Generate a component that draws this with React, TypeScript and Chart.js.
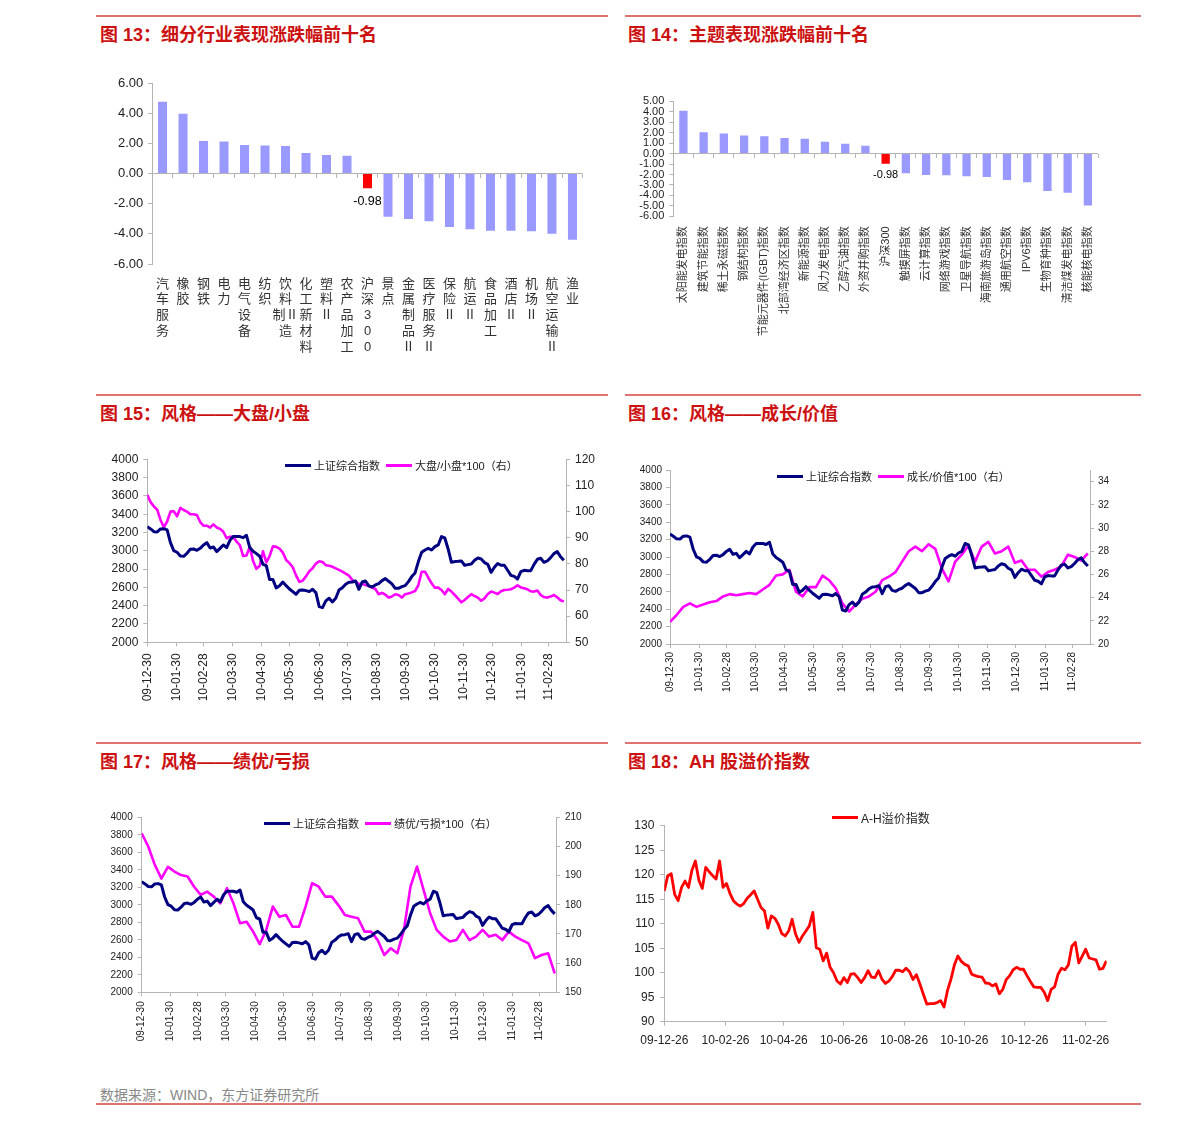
import React, { useEffect, useRef } from 'react';
import { Chart, registerables } from 'chart.js';

Chart.register(...registerables);

const FONT = "'Liberation Sans', 'Noto Sans CJK SC', sans-serif";
const AXIS = '#b4b4b4';
const TXT = '#222222';
const NAVY = '#000080';
const MAGENTA = '#ff00ff';
const RED = '#ff0000';
const BAR = '#9999ff';
const TITLE_RED = '#cc1111';
const RULE_RED = '#e07272';
const BENCHMARK = '沪深300';

// ---------- 图13 细分行业 ----------
const industryLabels: string[][] = [
  ['汽', '车', '服', '务'], ['橡', '胶'], ['钢', '铁'], ['电', '力'], ['电', '气', '设', '备'], ['纺', '织'],
  ['饮', '料', '制Ⅱ', '造'], ['化', '工', '新', '材', '料'], ['塑', '料', 'Ⅱ'], ['农', '产', '品', '加', '工'],
  ['沪', '深', '3', '0', '0'], ['景', '点'], ['金', '属', '制', '品', 'Ⅱ'], ['医', '疗', '服', '务', 'Ⅱ'],
  ['保', '险', 'Ⅱ'], ['航', '运', 'Ⅱ'], ['食', '品', '加', '工'], ['酒', '店', 'Ⅱ'], ['机', '场', 'Ⅱ'],
  ['航', '空', '运', '输', 'Ⅱ'], ['渔', '业'],
];
const industryChange = [4.76, 3.96, 2.16, 2.12, 1.89, 1.85, 1.83, 1.36, 1.23, 1.18, -0.98, -2.86, -3.02, -3.17, -3.55, -3.69, -3.79, -3.79, -3.83, -3.99, -4.39];

// ---------- 图14 主题 ----------
const themeLabels = ['太阳能发电指数', '建筑节能指数', '稀土永磁指数', '钢结构指数', '节能元器件(IGBT)指数', '北部湾经济区指数', '新能源指数', '风力发电指数', '乙醇汽油指数', '外资并购指数', '沪深300', '触摸屏指数', '云计算指数', '网络游戏指数', '卫星导航指数', '海南旅游岛指数', '通用航空指数', 'IPV6指数', '生物育种指数', '清洁煤发电指数', '核能核电指数'];
const themeChange = [4.09, 2.05, 1.92, 1.73, 1.66, 1.5, 1.41, 1.12, 0.93, 0.74, -0.98, -1.89, -2.05, -2.08, -2.17, -2.24, -2.53, -2.75, -3.58, -3.74, -4.96];

// ---------- 风格图 (samples counted in days from 2009-12-30) ----------
const styleStart = '2009-12-30';
const styleTickLabels = ['09-12-30', '10-01-30', '10-02-28', '10-03-30', '10-04-30', '10-05-30', '10-06-30', '10-07-30', '10-08-30', '10-09-30', '10-10-30', '10-11-30', '10-12-30', '11-01-30', '11-02-28'];
const halfWeekDays = Array.from({ length: 127 }, (_, i) => i * 3.5);
const weeklyDays = Array.from({ length: 64 }, (_, i) => i * 7);

const shComposite = [3264, 3239, 3209, 3206, 3239, 3242, 3228, 3089, 3002, 2984,
  2944, 2940, 2973, 3016, 3020, 3005, 3027, 3064, 3089, 3031,
  3042, 2991, 3027, 3064, 3035, 3115, 3155, 3155, 3155, 3144,
  3169, 3035, 2995, 2969, 2940, 2852, 2838, 2685, 2685, 2594,
  2619, 2659, 2619, 2583, 2554, 2525, 2568, 2572, 2565, 2554,
  2579, 2543, 2390, 2379, 2452, 2481, 2441, 2481, 2572, 2597,
  2634, 2656, 2659, 2670, 2579, 2659, 2670, 2616, 2605, 2627,
  2641, 2674, 2696, 2667, 2638, 2590, 2590, 2608, 2619, 2663,
  2718, 2758, 2882, 2984, 3009, 3027, 3009, 3046, 3064, 3155,
  3140, 3020, 2874, 2882, 2885, 2889, 2842, 2849, 2856, 2896,
  2922, 2911, 2871, 2852, 2765, 2820, 2860, 2842, 2842, 2787,
  2732, 2721, 2692, 2772, 2787, 2783, 2783, 2852, 2907, 2918,
  2874, 2889, 2925, 2969, 2991, 2936, 2896];

const bigSmallRatio = [106.4, 103.6, 102.0, 100.7, 96.8, 94.0, 96.2, 100.0, 100.1, 98.2,
  101.4, 100.6, 100.0, 99.0, 99.0, 98.7, 96.0, 94.6, 94.6, 93.9,
  95.1, 93.9, 93.4, 92.3, 89.8, 90.4, 90.4, 88.5, 87.2, 83.0,
  83.2, 86.5, 81.1, 78.1, 79.3, 84.8, 80.6, 83.0, 86.7, 86.5,
  85.8, 84.3, 81.5, 80.3, 78.7, 75.6, 73.1, 73.6, 75.2, 77.2,
  78.3, 80.1, 81.0, 80.7, 79.5, 79.3, 78.9, 78.3, 77.7, 77.0,
  76.3, 75.5, 73.8, 73.2, 72.3, 72.3, 71.9, 71.5, 70.9, 70.4,
  68.4, 68.9, 68.2, 67.1, 67.5, 68.4, 68.1, 67.1, 68.4, 68.7,
  69.1, 69.6, 71.9, 77.0, 77.0, 74.7, 72.6, 70.9, 70.9, 70.0,
  68.4, 70.4, 69.4, 68.1, 66.7, 65.3, 66.2, 67.3, 68.4, 67.7,
  67.1, 65.9, 66.8, 68.5, 69.4, 69.0, 68.5, 69.5, 70.0, 70.1,
  70.3, 70.9, 71.8, 71.0, 70.7, 70.3, 69.5, 69.4, 69.8, 68.1,
  67.3, 67.1, 67.5, 68.1, 67.2, 66.1, 65.6];

const growthValueRatio = [21.9, 22.5, 23.2, 23.5, 23.2, 23.4, 23.6, 23.7, 24.1, 24.3,
  24.2, 24.3, 24.4, 24.3, 24.7, 25.1, 25.9, 26.0, 26.4, 24.5,
  24.1, 24.9, 24.9, 25.9, 25.5, 24.8, 23.5, 22.8, 23.4, 23.9,
  24.1, 24.5, 25.5, 25.8, 26.2, 27.1, 28.0, 28.4, 28.0, 28.6,
  28.2, 26.5, 25.4, 27.1, 27.7, 28.5, 27.1, 28.4, 28.8, 27.8,
  28.0, 28.4, 27.0, 27.2, 26.4, 26.4, 25.8, 26.2, 26.4, 26.7,
  27.7, 27.5, 27.2, 27.8];

const profitLossRatio = [204.5, 200, 193.7, 189, 193, 191.4, 190.2, 189.7, 186.2, 183.4,
  184.5, 182.8, 180.5, 185.7, 180.5, 173.7, 174.2, 170.8, 166.5, 171.4,
  179.4, 175.9, 176.5, 172.5, 172.5, 179.4, 187.4, 186.2, 182.8, 182.8,
  179.9, 176.5, 175.9, 175.4, 170.8, 170.8, 167.9, 162.8, 165.1, 163.4,
  171.4, 186.2, 193.1, 185.1, 177.1, 171.4, 169.1, 167.4, 167.9, 171.4,
  167.9, 169.1, 171.4, 169.1, 169.7, 167.9, 170.8, 169.1, 167.9, 166.8,
  161.7, 162.8, 163.4, 156.5];

// ---------- 图18 AH 溢价 (samples counted in days from 2009-12-26) ----------
const ahStart = '2009-12-26';
const ahTickLabels = ['09-12-26', '10-02-26', '10-04-26', '10-06-26', '10-08-26', '10-10-26', '10-12-26', '11-02-26'];
const ahSampleDays = Array.from({ length: 129 }, (_, i) => i * 3.5);
const ahPremium = [116.7, 119.8, 120.2, 116.0, 114.7, 117.4, 118.7, 117.4, 120.9, 122.8,
  118.9, 117.2, 121.5, 120.6, 119.8, 119.1, 122.8, 117.4, 118.2, 116.2,
  114.7, 114.0, 113.6, 114.1, 115.2, 115.9, 116.7, 115.0, 113.3, 112.6,
  109.1, 111.6, 111.1, 109.9, 108.0, 107.5, 108.5, 110.9, 107.9, 106.2,
  107.5, 108.5, 109.6, 112.3, 105.1, 104.8, 102.4, 104.0, 101.1, 100.0,
  98.3, 97.7, 99.0, 98.0, 99.7, 99.8, 99.0, 98.0, 99.0, 100.4,
  99.1, 99.0, 100.4, 98.7, 97.8, 98.3, 99.2, 100.5, 100.5, 100.2,
  100.9, 100.2, 98.6, 99.6, 97.7, 95.6, 93.6, 93.7, 93.7, 93.9,
  94.3, 93.0, 96.4, 98.7, 101.6, 103.4, 102.3, 101.7, 101.4, 99.7,
  99.4, 99.2, 99.1, 97.9, 97.8, 97.3, 97.7, 95.7, 96.6, 98.6,
  99.4, 100.6, 101.1, 100.7, 100.7, 99.4, 98.2, 97.1, 97.0, 97.0,
  96.0, 94.3, 96.6, 97.1, 99.7, 100.9, 100.6, 101.6, 105.4, 106.2,
  102.0, 103.4, 104.8, 103.0, 102.8, 102.6, 100.7, 100.9, 102.4];

// ---------- helpers ----------
function dayIndex(start: string, label: string) {
  const d = new Date('20' + label + 'T00:00:00Z').getTime();
  const s = new Date(start + 'T00:00:00Z').getTime();
  return Math.round((d - s) / 86400000);
}
function range(min: number, max: number, step: number) {
  const out: number[] = [];
  for (let v = min; v <= max + 1e-9; v += step) out.push(Math.round(v * 1000) / 1000);
  return out;
}

function axisY(position: string, r: any, width: number, size: number, pad: number) {
  return {
    type: 'linear',
    position,
    min: r.min,
    max: r.max,
    afterBuildTicks: (s: any) => { s.ticks = range(r.min, r.tickMax ?? r.max, r.step).map((v) => ({ value: v })); },
    afterFit: (s: any) => { s.width = width; },
    ticks: { autoSkip: false, padding: pad, font: { family: FONT, size, lineHeight: 1 }, color: TXT, callback: (v: any) => String(v) },
    grid: { drawOnChartArea: false, drawTicks: true, tickLength: 4, color: AXIS },
    border: { color: AXIS },
  };
}

function lineConfig(spec: any) {
  const { box, plot } = spec;
  const leftW = plot.l - box.left;
  const rightW = box.left + box.width - plot.r;
  const topPad = plot.t - box.top;
  const xH = box.top + box.height - plot.b;
  const tickDays = spec.xTickLabels.map((l: string) => dayIndex(spec.start, l));
  const scales: any = {
    x: {
      type: 'linear',
      min: 0,
      max: spec.xMax,
      afterBuildTicks: (s: any) => { s.ticks = tickDays.map((v: number) => ({ value: v })); },
      afterFit: (s: any) => { s.height = xH; },
      ticks: {
        autoSkip: false, minRotation: spec.rot, maxRotation: spec.rot, padding: spec.xPad,
        font: { family: FONT, size: spec.font }, color: TXT,
        callback: (_v: any, i: number) => spec.xTickLabels[i],
      },
      grid: { drawOnChartArea: false, drawTicks: true, tickLength: 4, color: AXIS },
      border: { color: AXIS },
    },
    y: axisY('left', spec.left, leftW, spec.font, spec.yPad),
  };
  if (spec.right) scales.y2 = axisY('right', spec.right, rightW, spec.font, spec.yPad);
  return {
    type: 'line',
    data: {
      datasets: spec.series.map((s: any) => ({
        label: s.label,
        data: s.days.map((x: number, i: number) => ({ x, y: s.data[i] })),
        borderColor: s.color,
        backgroundColor: s.color,
        borderWidth: s.width,
        pointRadius: 0,
        tension: 0,
        borderJoinStyle: 'round',
        yAxisID: s.axis,
      })),
    },
    options: {
      responsive: false,
      animation: false,
      events: [],
      layout: { padding: { top: topPad, left: 0, bottom: 0, right: spec.right ? 0 : rightW } },
      plugins: { legend: { display: false }, tooltip: { enabled: false } },
      scales,
    },
  };
}

function valueLabelPlugin(index: number, offset: number, size: number) {
  return {
    id: 'valueLabel',
    afterDatasetsDraw(chart: any) {
      const el = chart.getDatasetMeta(0).data[index];
      if (!el) return;
      const v = chart.data.datasets[0].data[index] as number;
      const ctx = chart.ctx;
      ctx.save();
      ctx.font = `${size}px ${FONT}`;
      ctx.fillStyle = '#000';
      ctx.textAlign = 'center';
      ctx.textBaseline = 'top';
      ctx.fillText(v.toFixed(2), el.x, el.y + offset);
      ctx.restore();
    },
  };
}

function barConfig(spec: any) {
  const { box, plot } = spec;
  const leftW = plot.l - box.left;
  const rightPad = box.left + box.width - plot.r;
  const topPad = plot.t - box.top;
  const xH = box.top + box.height - plot.b;
  const names = spec.labels.map((l: any) => (Array.isArray(l) ? l.join('') : l));
  const bench = names.indexOf(BENCHMARK);
  return {
    type: 'bar',
    data: {
      labels: spec.labels,
      datasets: [{
        data: spec.values,
        backgroundColor: names.map((n: string) => (n === BENCHMARK ? RED : BAR)),
        barPercentage: spec.barPct,
        categoryPercentage: 1,
      }],
    },
    options: {
      responsive: false,
      animation: false,
      events: [],
      layout: { padding: { top: topPad, right: rightPad, left: 0, bottom: 0 } },
      plugins: { legend: { display: false }, tooltip: { enabled: false } },
      scales: {
        x: {
          grid: { display: false },
          border: { display: false },
          afterFit: (s: any) => { s.height = xH; },
          ticks: {
            autoSkip: false, minRotation: spec.rot, maxRotation: spec.rot, padding: spec.xPad,
            font: { family: FONT, size: spec.xFont, lineHeight: spec.xLine }, color: '#333',
          },
        },
        x2: {
          type: 'category',
          position: { y: 0 },
          offset: true,
          grid: { offset: true, drawOnChartArea: false, drawTicks: true, tickLength: 4, color: AXIS },
          ticks: { display: false },
          border: { display: false },
        },
        y: {
          min: spec.min,
          max: spec.max,
          afterBuildTicks: (s: any) => { s.ticks = range(spec.min, spec.max, spec.step).map((v) => ({ value: v })); },
          afterFit: (s: any) => { s.width = leftW; },
          ticks: {
            autoSkip: false, padding: 5, font: { family: FONT, size: spec.yFont, lineHeight: 1 }, color: TXT,
            callback: (v: any) => Number(v).toFixed(2),
          },
          grid: {
            drawOnChartArea: true, drawTicks: true, tickLength: 4,
            color: (c: any) => (c.tick && c.tick.value === 0 ? AXIS : 'rgba(0,0,0,0)'),
            tickColor: AXIS,
          },
          border: { color: AXIS },
        },
      },
    },
    plugins: [valueLabelPlugin(bench, spec.labelOffset, spec.labelFont)],
  };
}

// ---------- chart specs ----------
const CHARTS = [
  {
    box: { left: 95, top: 60, width: 515, height: 305 },
    build: () => barConfig({
      box: { left: 95, top: 60, width: 515, height: 305 },
      plot: { l: 152.3, r: 582.7, t: 83, b: 264 },
      labels: industryLabels, values: industryChange, min: -6, max: 6, step: 2,
      yFont: 13, xFont: 13, xLine: 1.22, rot: 0, xPad: 4, barPct: 0.44, labelOffset: 7, labelFont: 12.5,
    }),
  },
  {
    box: { left: 625, top: 85, width: 490, height: 255 },
    build: () => barConfig({
      box: { left: 625, top: 85, width: 490, height: 255 },
      plot: { l: 673.3, r: 1098, t: 101.3, b: 216.3 },
      labels: themeLabels, values: themeChange, min: -6, max: 5, step: 1,
      yFont: 11, xFont: 11, xLine: 1.2, rot: 90, xPad: 2, barPct: 0.41, labelOffset: 6, labelFont: 11,
    }),
  },
  {
    box: { left: 95, top: 445, width: 520, height: 275 },
    build: () => lineConfig({
      box: { left: 95, top: 445, width: 520, height: 275 },
      plot: { l: 147.3, r: 566, t: 459.3, b: 642.3 },
      start: styleStart, xTickLabels: styleTickLabels, xMax: 443.3,
      rot: 90, font: 12, xPad: 7, yPad: 5,
      left: { min: 2000, max: 4000, step: 200 },
      right: { min: 50, max: 120, step: 10 },
      series: [
        { label: '上证综合指数', data: shComposite, days: halfWeekDays, color: NAVY, width: 3, axis: 'y' },
        { label: '大盘/小盘*100（右）', data: bigSmallRatio, days: halfWeekDays, color: MAGENTA, width: 2.6, axis: 'y2' },
      ],
    }),
  },
  {
    box: { left: 625, top: 455, width: 500, height: 260 },
    build: () => lineConfig({
      box: { left: 625, top: 455, width: 500, height: 260 },
      plot: { l: 670, r: 1090, t: 470, b: 644 },
      start: styleStart, xTickLabels: styleTickLabels, xMax: 443.3,
      rot: 90, font: 10, xPad: 4, yPad: 4,
      left: { min: 2000, max: 4000, step: 200 },
      right: { min: 20, max: 35, tickMax: 34, step: 2 },
      series: [
        { label: '上证综合指数', data: shComposite, days: halfWeekDays, color: NAVY, width: 3, axis: 'y' },
        { label: '成长/价值*100（右）', data: growthValueRatio, days: weeklyDays, color: MAGENTA, width: 2.6, axis: 'y2' },
      ],
    }),
  },
  {
    box: { left: 95, top: 800, width: 510, height: 260 },
    build: () => lineConfig({
      box: { left: 95, top: 800, width: 510, height: 260 },
      plot: { l: 141.7, r: 556, t: 817.3, b: 992.3 },
      start: styleStart, xTickLabels: styleTickLabels, xMax: 442.4,
      rot: 90, font: 10, xPad: 5, yPad: 5,
      left: { min: 2000, max: 4000, step: 200 },
      right: { min: 150, max: 210, step: 10 },
      series: [
        { label: '上证综合指数', data: shComposite, days: halfWeekDays, color: NAVY, width: 3, axis: 'y' },
        { label: '绩优/亏损*100（右）', data: profitLossRatio, days: weeklyDays, color: MAGENTA, width: 2.6, axis: 'y2' },
      ],
    }),
  },
  {
    box: { left: 625, top: 805, width: 500, height: 250 },
    build: () => lineConfig({
      box: { left: 625, top: 805, width: 500, height: 250 },
      plot: { l: 664.3, r: 1106.7, t: 825.7, b: 1021.7 },
      start: ahStart, xTickLabels: ahTickLabels, xMax: 448.3,
      rot: 0, font: 12, xPad: 8, yPad: 6,
      left: { min: 90, max: 130, step: 5 },
      series: [
        { label: 'A-H溢价指数', data: ahPremium, days: ahSampleDays, color: RED, width: 2.8, axis: 'y' },
      ],
    }),
  },
];

const TITLES = [
  { text: '图 13：细分行业表现涨跌幅前十名', left: 100, cy: 35 },
  { text: '图 14：主题表现涨跌幅前十名', left: 628, cy: 35 },
  { text: '图 15：风格——大盘/小盘', left: 100, cy: 414 },
  { text: '图 16：风格——成长/价值', left: 628, cy: 414 },
  { text: '图 17：风格——绩优/亏损', left: 100, cy: 762 },
  { text: '图 18：AH 股溢价指数', left: 628, cy: 762 },
];

const RULES = [
  { left: 96, width: 512, top: 15 },
  { left: 625, width: 516, top: 15 },
  { left: 96, width: 512, top: 394 },
  { left: 625, width: 516, top: 394 },
  { left: 96, width: 512, top: 742 },
  { left: 625, width: 516, top: 742 },
  { left: 96, width: 1045, top: 1103 },
];

const LEGENDS = [
  { left: 285, cy: 465, size: 11, items: [{ label: '上证综合指数', color: NAVY }, { label: '大盘/小盘*100（右）', color: MAGENTA }] },
  { left: 777, cy: 476, size: 11, items: [{ label: '上证综合指数', color: NAVY }, { label: '成长/价值*100（右）', color: MAGENTA }] },
  { left: 264, cy: 823, size: 11, items: [{ label: '上证综合指数', color: NAVY }, { label: '绩优/亏损*100（右）', color: MAGENTA }] },
  { left: 832, cy: 817, size: 12, items: [{ label: 'A-H溢价指数', color: RED }] },
];

function Legend({ left, cy, size, items }: any) {
  return (
    <div style={{ position: 'absolute', left, top: cy - 10, height: 20, display: 'flex', alignItems: 'center', whiteSpace: 'nowrap', fontSize: size, color: '#222', fontFamily: FONT }}>
      {items.map((it: any, i: number) => (
        <React.Fragment key={i}>
          <span style={{ display: 'inline-block', width: 26, height: 3, background: it.color, marginLeft: i ? 6 : 0, marginRight: 3 }} />
          <span>{it.label}</span>
        </React.Fragment>
      ))}
    </div>
  );
}

export default function App() {
  const refs = useRef<Array<HTMLCanvasElement | null>>([]);
  useEffect(() => {
    const charts = CHARTS.map((c, i) => new Chart(refs.current[i] as HTMLCanvasElement, c.build() as any));
    return () => { charts.forEach((ch) => ch.destroy()); };
  }, []);
  return (
    <div style={{ position: 'absolute', left: 0, top: 0, width: 1191, height: 1122, background: '#fff', overflow: 'hidden', fontFamily: FONT }}>
      {RULES.map((r, i) => (
        <div key={'r' + i} style={{ position: 'absolute', left: r.left, top: r.top, width: r.width, height: 2, background: RULE_RED }} />
      ))}
      {TITLES.map((t, i) => (
        <div key={'t' + i} style={{ position: 'absolute', left: t.left, top: t.cy - 12, lineHeight: '24px', fontSize: 18, fontWeight: 'bold', color: TITLE_RED, whiteSpace: 'nowrap' }}>{t.text}</div>
      ))}
      {CHARTS.map((c, i) => (
        <canvas
          key={'c' + i}
          ref={(el) => { refs.current[i] = el; }}
          width={c.box.width}
          height={c.box.height}
          style={{ position: 'absolute', left: c.box.left, top: c.box.top, width: c.box.width, height: c.box.height }}
        />
      ))}
      {LEGENDS.map((l, i) => <Legend key={'l' + i} {...l} />)}
      <div style={{ position: 'absolute', left: 100, top: 1085, lineHeight: '20px', fontSize: 14, color: '#888', whiteSpace: 'nowrap' }}>数据来源：WIND，东方证券研究所</div>
    </div>
  );
}
